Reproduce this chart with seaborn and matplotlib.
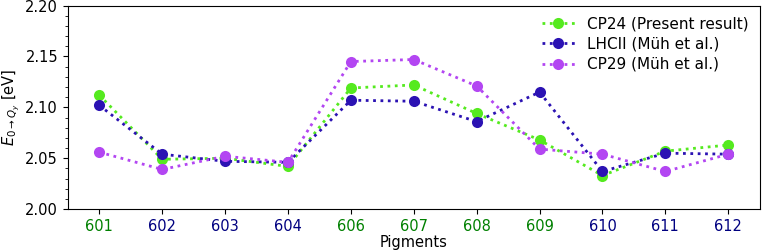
import seaborn as sns
import pandas as pd
import matplotlib
matplotlib.use("Agg")
from matplotlib import pyplot as plt
from matplotlib.ticker import MultipleLocator

# pigment labels and which ones are shared (green) vs. not (navy)
pigments = ["601", "602", "603", "604", "606", "607", "608", "609", "610", "611", "612"]
label_colors = ["green", "navy", "navy", "navy", "green", "green", "green", "green", "navy", "navy", "navy"]

# site energies [eV]
cp24 = [2.112, 2.049, 2.050, 2.042, 2.119, 2.122, 2.094, 2.068, 2.033, 2.057, 2.063]
lhcii = [2.102, 2.054, 2.047, 2.046, 2.107, 2.106, 2.086, 2.115, 2.037, 2.055, 2.054]
cp29 = [2.056, 2.039, 2.052, 2.046, 2.145, 2.147, 2.121, 2.059, 2.054, 2.037, 2.054]

series_names = ["CP24 (Present result)", "LHCII (Müh et al.)", "CP29 (Müh et al.)"]
series_values = [cp24, lhcii, cp29]
series_colors = ["#55ea1f", "#2b12b3", "#b346f2"]

rows = []
for name, vals in zip(series_names, series_values):
    for p, v in zip(pigments, vals):
        rows.append({"Pigments": p, "Energy": v, "Series": name})
df = pd.DataFrame(rows)

sns.set_style("ticks", {"text.color": "black", "axes.labelcolor": "black",
                        "xtick.color": "black", "ytick.color": "black",
                        "axes.edgecolor": "black"})
plt.rcParams["font.family"] = ["DejaVu Sans"]

fig, ax = plt.subplots(figsize=(7.62, 2.52), dpi=100)
for name, color in zip(series_names, series_colors):
    sub = df[df["Series"] == name]
    sns.lineplot(data=sub, x="Pigments", y="Energy", ax=ax, color=color,
                 linestyle=":", linewidth=2, marker="o", markersize=8,
                 markeredgewidth=0, label=name)

ax.set_ylim(2.0, 2.2)
ax.yaxis.set_major_locator(MultipleLocator(0.05))
ax.yaxis.set_minor_locator(MultipleLocator(0.01))
ax.set_xlim(-0.5, 10.5)
ax.set_xlabel("Pigments", fontsize=10.5, labelpad=1)
ax.set_ylabel(r"$E_{0\rightarrow Q_y}$ [eV]", fontsize=10.5, labelpad=2)
ax.tick_params(labelsize=10.5)
for lbl, c in zip(ax.get_xticklabels(), label_colors):
    lbl.set_color(c)
ax.legend(loc="upper right", frameon=False, fontsize=11, handlelength=2.2,
          borderaxespad=0.3, labelspacing=0.35)

plt.subplots_adjust(left=0.089, right=0.997, top=0.978, bottom=0.17)
plt.savefig("out.png", dpi=100)
